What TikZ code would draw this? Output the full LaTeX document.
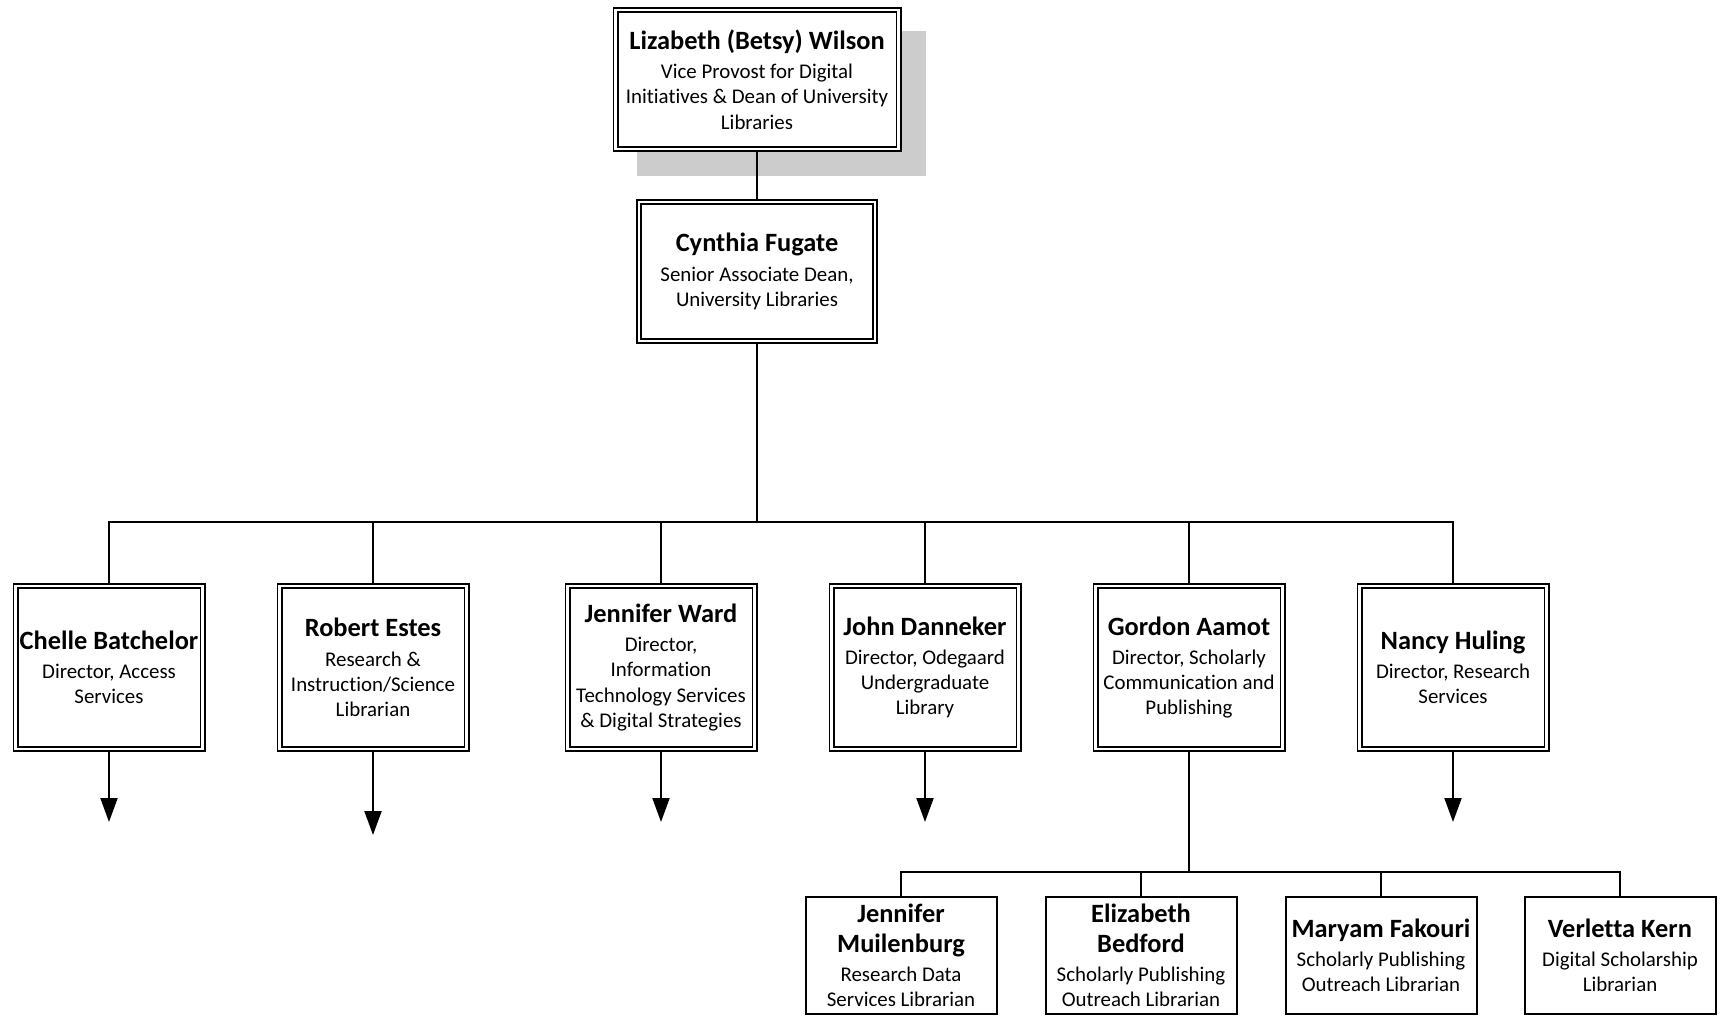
\documentclass[tikz,border=0pt]{standalone}
\usepackage{fontspec}
\setmainfont{Carlito}[Ligatures=NoCommon]
\usetikzlibrary{arrows.meta,backgrounds}
\newcommand{\namefont}{\fontsize{13.2}{15.5}\selectfont\bfseries}
\newcommand{\rolefont}{\fontsize{10.45}{12.6}\selectfont}
\newcommand{\who}[2]{{\namefont #1}\\[2pt]#2}
\newcommand{\whotwo}[3]{{\namefont #1}\\[2.5pt]{\namefont #2}\\[2pt]#3}

\begin{document}
\begin{tikzpicture}[x=.5pt,y=-.5pt,
    dbox/.style={draw,double,line width=.8pt,double distance=1.4pt,fill=white,align=center,inner sep=1pt,outer sep=1.5pt,font=\rolefont},
    topbox/.style={dbox,minimum width=141.5pt,minimum height=69.5pt},
    deanbox/.style={dbox,minimum width=118pt,minimum height=69.5pt},
    dirbox/.style={dbox,minimum width=93.5pt,minimum height=81.5pt},
    staffbox/.style={draw,line width=1pt,fill=white,align=center,inner sep=1pt,outer sep=.5pt,font=\rolefont,minimum width=95.5pt,minimum height=58.5pt},
    wire/.style={line width=1pt},
    arr/.style={wire,-{Triangle[length=12pt,width=8.5pt]}}]
    \useasboundingbox (0,0) rectangle (1726,1017);
    \node[topbox] (betsy) at (757,79.5) {\who{Lizabeth (Betsy) Wilson}{Vice Provost for Digital\\Initiatives \& Dean of University\\Libraries}};
    \node[deanbox] (cynthia) at (757,271.5) {\who{Cynthia Fugate}{Senior Associate Dean,\\University Libraries}};
    \node[dirbox] (chelle) at (109,667.5) {\who{Chelle Batchelor}{Director, Access\\Services}};
    \node[dirbox] (robert) at (373,667.5) {\who{Robert Estes}{Research \&\\Instruction/Science\\Librarian}};
    \node[dirbox] (jward) at (661,667.5) {\who{Jennifer Ward}{Director,\\Information\\Technology Services\\\& Digital Strategies}};
    \node[dirbox] (john) at (925,667.5) {\who{John Danneker}{Director, Odegaard\\Undergraduate\\Library}};
    \node[dirbox] (gordon) at (1189,667.5) {\who{Gordon Aamot}{Director, Scholarly\\Communication and\\Publishing}};
    \node[dirbox] (nancy) at (1453,667.5) {\who{Nancy Huling}{Director, Research\\Services}};
    \node[staffbox] (muilenburg) at (901,955.5) {\whotwo{Jennifer}{Muilenburg}{Research Data\\Services Librarian}};
    \node[staffbox] (bedford) at (1141,955.5) {\whotwo{Elizabeth}{Bedford}{Scholarly Publishing\\Outreach Librarian}};
    \node[staffbox] (fakouri) at (1381,955.5) {\who{Maryam Fakouri}{Scholarly Publishing\\Outreach Librarian}};
    \node[staffbox] (kern) at (1620,955.5) {\who{Verletta Kern}{Digital Scholarship\\Librarian}};
    \coordinate (bus) at (757,522);
    \coordinate (gbus) at (1189,872);
    \coordinate (chelle-end) at (109,822);
    \coordinate (robert-end) at (373,835);
    \coordinate (jward-end) at (661,822);
    \coordinate (john-end) at (925,822);
    \coordinate (nancy-end) at (1453,822);
    \begin{scope}[on background layer]
        \fill[gray!40] ([shift={(24,24)}]betsy.north west) rectangle ([shift={(24,24)}]betsy.south east);
        \draw[wire] (betsy) -- (cynthia) -- (bus);
        \foreach \n in {chelle,robert,jward,john,gordon,nancy}
            \draw[wire] (bus) -| (\n);
        \draw[wire] (gordon) -- (gbus);
        \foreach \n in {muilenburg,bedford,fakouri,kern}
            \draw[wire] (gbus) -| (\n);
        \foreach \n in {chelle,robert,jward,john,nancy}
            \draw[arr] (\n) -- (\n-end);
    \end{scope}
\end{tikzpicture}
\end{document}
